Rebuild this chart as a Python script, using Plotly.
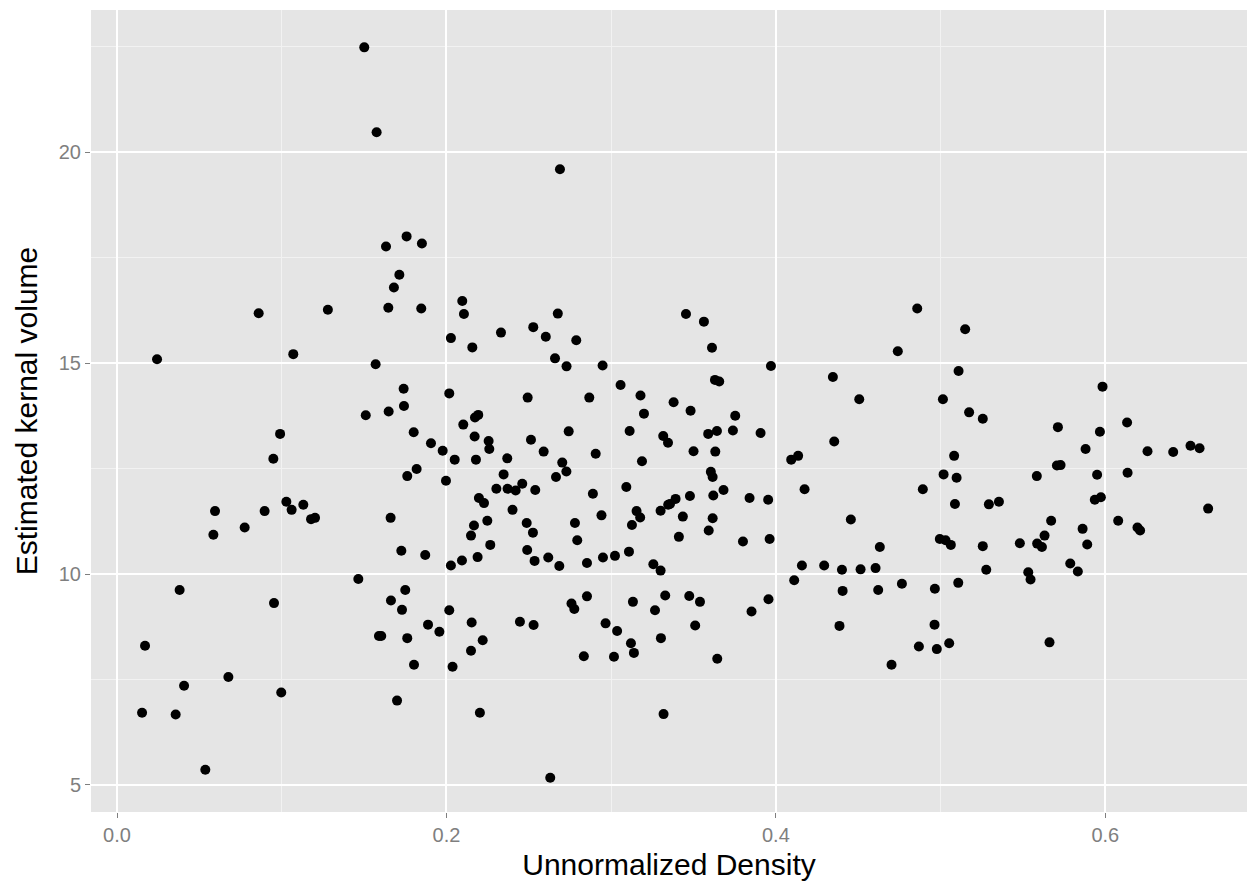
import plotly.graph_objects as go

# Unnormalized Density (x) and Estimated kernal volume (y)
density = [
    0.0152, 0.0170, 0.0243, 0.0356, 0.0380, 0.0407, 0.0536, 0.0585, 0.0595, 0.0676,
    0.0775, 0.0860, 0.0896, 0.0949, 0.0953, 0.0990, 0.0997, 0.1028, 0.1060, 0.1070,
    0.1131, 0.1178, 0.1202, 0.1280, 0.1465, 0.1501, 0.1510, 0.1570, 0.1576, 0.1590,
    0.1604, 0.1633, 0.1647, 0.1649, 0.1661, 0.1663, 0.1681, 0.1700, 0.1714, 0.1726,
    0.1730, 0.1740, 0.1742, 0.1750, 0.1758, 0.1762, 0.1762, 0.1801, 0.1803, 0.1819,
    0.1847, 0.1851, 0.1871, 0.1888, 0.1906, 0.1957, 0.1977, 0.1997, 0.2017, 0.2017,
    0.2027, 0.2027, 0.2037, 0.2050, 0.2094, 0.2096, 0.2102, 0.2106, 0.2149, 0.2149,
    0.2153, 0.2157, 0.2167, 0.2171, 0.2173, 0.2179, 0.2189, 0.2193, 0.2197, 0.2203,
    0.2220, 0.2228, 0.2248, 0.2256, 0.2260, 0.2266, 0.2303, 0.2331, 0.2347, 0.2369,
    0.2371, 0.2401, 0.2420, 0.2446, 0.2460, 0.2487, 0.2490, 0.2493, 0.2513, 0.2525,
    0.2527, 0.2529, 0.2535, 0.2539, 0.2590, 0.2603, 0.2618, 0.2630, 0.2659, 0.2665,
    0.2676, 0.2685, 0.2689, 0.2703, 0.2728, 0.2729, 0.2742, 0.2759, 0.2776, 0.2780,
    0.2788, 0.2794, 0.2834, 0.2853, 0.2853, 0.2867, 0.2889, 0.2906, 0.2941, 0.2948,
    0.2950, 0.2966, 0.3017, 0.3023, 0.3036, 0.3057, 0.3092, 0.3108, 0.3112, 0.3120,
    0.3126, 0.3132, 0.3138, 0.3154, 0.3176, 0.3178, 0.3187, 0.3199, 0.3256, 0.3266,
    0.3300, 0.3300, 0.3302, 0.3316, 0.3318, 0.3328, 0.3345, 0.3346, 0.3357, 0.3379,
    0.3391, 0.3411, 0.3435, 0.3454, 0.3474, 0.3478, 0.3482, 0.3500, 0.3510, 0.3539,
    0.3563, 0.3589, 0.3592, 0.3605, 0.3612, 0.3616, 0.3616, 0.3620, 0.3630, 0.3632,
    0.3642, 0.3644, 0.3656, 0.3682, 0.3739, 0.3753, 0.3800, 0.3840, 0.3852, 0.3907,
    0.3953, 0.3955, 0.3962, 0.3970, 0.4093, 0.4111, 0.4135, 0.4158, 0.4174, 0.4293,
    0.4346, 0.4354, 0.4386, 0.4401, 0.4405, 0.4455, 0.4506, 0.4514, 0.4605, 0.4621,
    0.4631, 0.4702, 0.4740, 0.4765, 0.4858, 0.4868, 0.4892, 0.4963, 0.4965, 0.4977,
    0.4995, 0.5014, 0.5018, 0.5030, 0.5052, 0.5062, 0.5082, 0.5087, 0.5097, 0.5107,
    0.5109, 0.5149, 0.5173, 0.5256, 0.5256, 0.5277, 0.5293, 0.5354, 0.5481, 0.5532,
    0.5546, 0.5584, 0.5586, 0.5615, 0.5631, 0.5661, 0.5671, 0.5706, 0.5712, 0.5728,
    0.5787, 0.5833, 0.5862, 0.5880, 0.5890, 0.5936, 0.5950, 0.5967, 0.5973, 0.5983,
    0.6078, 0.6132, 0.6135, 0.6195, 0.6211, 0.6256, 0.6412, 0.6517, 0.6572, 0.6624,
]
volume = [
    6.71, 8.30, 15.09, 6.67, 9.62, 7.35, 5.36, 10.93, 11.49, 7.56,
    11.10, 16.18, 11.49, 12.73, 9.31, 13.32, 7.19, 11.71, 11.52, 15.21,
    11.64, 11.30, 11.33, 16.26, 9.88, 22.48, 13.76, 14.97, 20.47, 8.53,
    8.53, 17.76, 16.31, 13.85, 11.33, 9.37, 16.79, 7.00, 17.09, 10.55,
    9.15, 14.39, 13.98, 9.62, 18.00, 12.32, 8.48, 13.36, 7.85, 12.49,
    16.29, 17.83, 10.45, 8.80, 13.10, 8.63, 12.92, 12.21, 14.28, 9.14,
    15.59, 10.20, 7.80, 12.71, 10.32, 16.47, 13.54, 16.16, 10.91, 8.18,
    8.85, 15.37, 11.15, 13.26, 13.71, 12.71, 10.40, 13.77, 11.80, 6.71,
    8.43, 11.68, 11.26, 13.15, 12.96, 10.69, 12.02, 15.72, 12.36, 12.74,
    12.02, 11.52, 11.98, 8.87, 12.14, 11.21, 10.57, 14.18, 13.18, 10.98,
    15.85, 8.79, 10.31, 11.99, 12.90, 15.62, 10.39, 5.17, 15.11, 12.30,
    16.17, 10.19, 19.59, 12.64, 12.43, 14.92, 13.38, 9.30, 9.17, 11.21,
    15.54, 10.80, 8.05, 9.47, 10.26, 14.18, 11.90, 12.85, 11.39, 14.94,
    10.39, 8.83, 8.04, 10.43, 8.65, 14.48, 12.06, 10.53, 13.39, 8.36,
    11.16, 9.34, 8.13, 11.49, 11.34, 14.23, 12.67, 13.80, 10.23, 9.14,
    10.08, 11.50, 8.48, 13.27, 6.68, 9.49, 13.11, 11.64, 11.66, 14.07,
    11.78, 10.88, 11.36, 16.16, 9.48, 11.85, 13.87, 12.91, 8.78, 9.34,
    15.98, 13.32, 11.03, 12.42, 15.36, 12.30, 11.32, 11.86, 14.60, 12.90,
    13.39, 7.99, 14.56, 11.99, 13.40, 13.75, 10.77, 11.80, 9.11, 13.34,
    11.76, 9.40, 10.83, 14.93, 12.71, 9.85, 12.80, 10.20, 12.01, 10.20,
    14.67, 13.14, 8.77, 10.10, 9.60, 11.29, 14.14, 10.11, 10.14, 9.62,
    10.64, 7.85, 15.28, 9.77, 16.29, 8.28, 12.01, 8.80, 9.65, 8.22,
    10.83, 14.14, 12.36, 10.80, 8.36, 10.69, 12.80, 11.66, 12.28, 9.79,
    14.81, 15.80, 13.83, 13.68, 10.66, 10.10, 11.65, 11.71, 10.73, 10.04,
    9.87, 12.32, 10.72, 10.64, 10.91, 8.38, 11.26, 12.57, 13.48, 12.58,
    10.25, 10.06, 11.07, 12.96, 10.70, 11.76, 12.35, 13.37, 11.82, 14.44,
    11.26, 13.59, 12.40, 11.10, 11.03, 12.91, 12.89, 13.04, 12.98, 11.55,
]

x_ticks = [0.0, 0.2, 0.4, 0.6]
x_tick_labels = ["0.0", "0.2", "0.4", "0.6"]
y_ticks = [5, 10, 15, 20]
y_tick_labels = ["5", "10", "15", "20"]

FONT = "Liberation Sans, Arial, Helvetica, sans-serif"

fig = go.Figure(
    go.Scatter(
        x=density,
        y=volume,
        mode="markers",
        marker=dict(color="black", size=10, line=dict(width=0)),
        hoverinfo="x+y",
    )
)

axis_common = dict(
    showgrid=True,
    gridcolor="white",
    gridwidth=2,
    zeroline=False,
    showline=False,
    ticks="outside",
    ticklen=5,
    tickwidth=1,
    tickcolor="#7F7F7F",
    tickfont=dict(family=FONT, size=20, color="#7F7F7F"),
)

fig.update_layout(
    width=1252,
    height=888,
    margin=dict(l=91, r=5, t=10, b=76),
    paper_bgcolor="white",
    plot_bgcolor="#E5E5E5",
    showlegend=False,
    font=dict(family=FONT),
    xaxis=dict(
        **axis_common,
        range=[-0.0158, 0.686],
        tickvals=x_ticks,
        ticktext=x_tick_labels,
        minor=dict(tickvals=[0.1, 0.3, 0.5], showgrid=True, gridcolor="#F2F2F2", gridwidth=1, ticks=""),
        title=dict(text="Unnormalized Density", font=dict(family=FONT, size=30, color="black"), standoff=8),
    ),
    yaxis=dict(
        **axis_common,
        range=[4.36, 23.365],
        tickvals=y_ticks,
        ticktext=y_tick_labels,
        minor=dict(tickvals=[7.5, 12.5, 17.5, 22.5], showgrid=True, gridcolor="#F2F2F2", gridwidth=1, ticks=""),
        title=dict(text="Estimated kernal volume", font=dict(family=FONT, size=30, color="black"), standoff=12),
    ),
)

fig.write_html("out.html")
